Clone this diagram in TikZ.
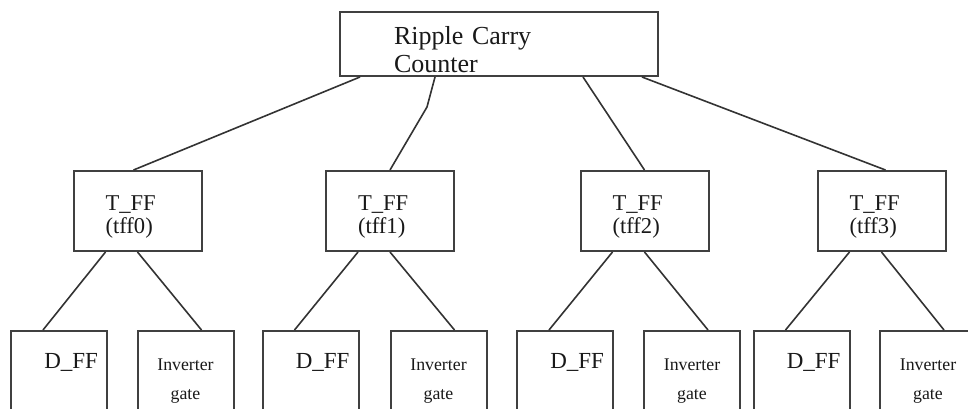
\documentclass[tikz,border=0pt]{standalone}
\usepackage{fontspec}
\setmainfont{Liberation Serif}
\usetikzlibrary{calc,positioning}

\begin{document}
\begin{tikzpicture}[x=0.5pt,y=-0.5pt,
    blk/.style={draw=black!75, line width=1pt, rectangle, inner sep=0pt, text=black!90},
    wire/.style={draw=black!80, line width=0.8pt},
    ffbox/.style={blk, font=\fontsize{11.3}{11.5}\selectfont, text width=32pt, inner xsep=16pt,
                  align=left, text height=19.5pt, text depth=20.5pt},
    dbox/.style={blk, font=\fontsize{11.5}{12}\selectfont, text width=39pt, inner xsep=4.5pt,
                 align=right, text height=18.5pt, text depth=41.5pt},
    invbox/.style={blk, font=\fontsize{8.9}{14.5}\selectfont, text width=48pt, align=center,
                   text height=19.5pt, text depth=40.5pt}]
      \useasboundingbox (0,0) rectangle (968,408);
      \clip (0,0) rectangle (968,408);
      \begin{scope}
        \node[blk, font=\fontsize{13}{14}\selectfont, text width=105pt, inner xsep=27pt, align=left,
              text height=16pt, text depth=16pt] (rcc) at (499,44) {Ripple Carry\\Counter};
        \node[ffbox] (tff0) at (137.5,211) {T\_FF\\(tff0)};
        \node[ffbox] (tff1) at (390,211) {T\_FF\\(tff1)};
        \node[ffbox] (tff2) at (644.5,211) {T\_FF\\(tff2)};
        \node[ffbox] (tff3) at (881.5,211) {T\_FF\\(tff3)};
        \node[dbox] (dff0) at (59,391) {D\_FF};
        \node[invbox] (inv0) at (185.5,391) {Inverter\\gate};
        \node[dbox] (dff1) at (310.5,391) {D\_FF};
        \node[invbox] (inv1) at (438.5,391) {Inverter\\gate};
        \node[dbox] (dff2) at (565,391) {D\_FF};
        \node[invbox] (inv2) at (692,391) {Inverter\\gate};
        \node[dbox] (dff3) at (801.5,391) {D\_FF};
        \node[invbox] (inv3) at (928,391) {Inverter\\gate};
        \coordinate (kink) at (427,107);
        % top level
        \draw[wire] ($(rcc.south)+(-139,0)$) -- ($(tff0.north)+(-4,0)$);
        \draw[wire] ($(rcc.south)+(-64,0)$) -- (kink) -- (tff1.north);
        \draw[wire] ($(rcc.south)+(84,0)$) -- (tff2.north);
        \draw[wire] ($(rcc.south)+(143,0)$) -- ($(tff3.north)+(4,0)$);
        % second level
        \draw[wire] ($(tff0.south)+(-32,0)$) -- ($(dff0.north)+(-16,0)$);
        \draw[wire] (tff0.south) -- ($(inv0.north)+(16,0)$);
        \draw[wire] ($(tff1.south)+(-32,0)$) -- ($(dff1.north)+(-16,0)$);
        \draw[wire] (tff1.south) -- ($(inv1.north)+(16,0)$);
        \draw[wire] ($(tff2.south)+(-32,0)$) -- ($(dff2.north)+(-16,0)$);
        \draw[wire] (tff2.south) -- ($(inv2.north)+(16,0)$);
        \draw[wire] ($(tff3.south)+(-32,0)$) -- ($(dff3.north)+(-16,0)$);
        \draw[wire] (tff3.south) -- ($(inv3.north)+(16,0)$);
      \end{scope}
\end{tikzpicture}
\end{document}
